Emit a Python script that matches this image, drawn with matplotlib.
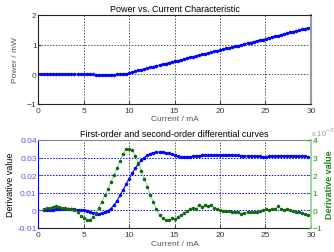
import numpy as np
import matplotlib.pyplot as plt

plt.rcParams['font.family'] = ['Liberation Sans', 'DejaVu Sans']

# Current axis (mA)
current = np.round(np.linspace(0, 29.7, 90), 2)

# Power / mW
power = [0.0, 0.0, 0.0, 0.0, 0.0, 0.0, 0.0, 0.0, 0.0, 0.0,
         0.0, 0.0, 0.0, 0.0, 0.0, 0.0, 0.0, 0.0, -0.005, -0.01,
         -0.015, -0.02, -0.02, -0.02, -0.015, -0.01, -0.005, 0.0, 0.01, 0.02,
         0.04, 0.07, 0.10, 0.13, 0.15, 0.18, 0.21, 0.23, 0.26, 0.29,
         0.31, 0.34, 0.36, 0.39, 0.41, 0.44, 0.46, 0.49, 0.51, 0.54,
         0.57, 0.59, 0.62, 0.64, 0.67, 0.69, 0.72, 0.74, 0.77, 0.79,
         0.82, 0.84, 0.87, 0.89, 0.92, 0.94, 0.97, 0.99, 1.02, 1.05,
         1.07, 1.10, 1.12, 1.15, 1.17, 1.20, 1.23, 1.25, 1.28, 1.30,
         1.33, 1.36, 1.38, 1.41, 1.44, 1.46, 1.49, 1.52, 1.54, 1.57]

# First-order derivative (left axis), starts at the 3rd current point
d1 = [0.0000, 0.0001, 0.0002, 0.0004, 0.0006, 0.0008, 0.0009, 0.0009,
      0.0008, 0.0007, 0.0005, 0.0004, 0.0002, 0.0000, -0.0004, -0.0008,
      -0.0013, -0.0018, -0.0019, -0.0016, -0.0010, -0.0002, 0.0010, 0.0030,
      0.0055, 0.0085, 0.0115, 0.0148, 0.0180, 0.0210, 0.0238, 0.0263,
      0.0284, 0.0300, 0.0313, 0.0322, 0.0328, 0.0331, 0.0331, 0.0330,
      0.0327, 0.0323, 0.0318, 0.0313, 0.0308, 0.0305, 0.0303, 0.0303,
      0.0305, 0.0307, 0.0309, 0.0311, 0.0312, 0.0313, 0.0314, 0.0315,
      0.0315, 0.0316, 0.0316, 0.0316, 0.0315, 0.0315, 0.0314, 0.0313,
      0.0312, 0.0311, 0.0310, 0.0309, 0.0308, 0.0307, 0.0306, 0.0306,
      0.0305, 0.0305, 0.0306, 0.0307, 0.0308, 0.0309, 0.0310, 0.0311,
      0.0311, 0.0311, 0.0310, 0.0309, 0.0308, 0.0307, 0.0306, 0.0305]

# Second-order derivative (right axis, x 1e-3), starts at the 3rd current point
d2 = [0.10, 0.12, 0.15, 0.18, 0.25, 0.20, 0.15, 0.12,
      0.10, 0.05, 0.00, -0.12, -0.30, -0.45, -0.52, -0.52,
      -0.40, -0.15, 0.15, 0.50, 0.85, 1.20, 1.60, 2.00,
      2.40, 2.80, 3.20, 3.50, 3.50, 3.40, 3.10, 2.70,
      2.25, 1.80, 1.35, 0.90, 0.45, 0.05, -0.25, -0.45,
      -0.55, -0.55, -0.45, -0.50, -0.35, -0.25, -0.15, -0.05,
      0.10, 0.15, 0.10, 0.30, 0.20, 0.30, 0.22, 0.28,
      0.15, 0.05, 0.00, -0.02, -0.05, -0.05, -0.08, -0.10,
      -0.10, -0.18, -0.15, -0.12, -0.10, -0.10, -0.08, -0.05,
      0.00, 0.05, 0.02, 0.10, 0.05, 0.22, 0.08, 0.02,
      0.08, 0.00, -0.05, -0.08, -0.12, -0.15, -0.20, -0.25]

tick_col = '#3a3a4a'
purple = '#7a44e0'
green = '#1f7f1f'
lgreen = '#8fcf8f'

fig = plt.figure(figsize=(3.34, 2.53), dpi=100)
ax1 = fig.add_axes([0.114, 0.585, 0.817, 0.352])
ax2 = fig.add_axes([0.114, 0.095, 0.817, 0.348])

# ---- top plot
ax1.plot(current, power, color='blue', marker='.', ms=3, lw=0.8)
ax1.set_xlim(0, 30)
ax1.set_ylim(-1, 2)
ax1.set_xticks(range(0, 31, 5))
ax1.set_yticks([-1, 0, 1, 2])
ax1.grid(True, color='#555555', ls=(0, (1.5, 1.5)), lw=0.7)
ax1.set_title('Power vs. Current Characteristic', fontsize=6.5, pad=3)
ax1.set_xlabel('Current / mA', fontsize=6, color='#555555', labelpad=1)
ax1.set_ylabel('Power / mW', fontsize=6, color='#4a5f4a', labelpad=6)
ax1.tick_params(labelsize=6, colors=tick_col, length=2, pad=1, direction='in')
ax1.tick_params(axis='x', pad=2)
for s in ax1.spines.values():
    s.set_color('#222222')
    s.set_linewidth(0.8)
ax1.spines['right'].set_color('#999999')
ax1.spines['right'].set_linewidth(1.5)

# ---- bottom plot
x2 = current[2:]
ax2.plot(x2, d1, color='blue', marker='.', ms=3, lw=0.8, zorder=3)
ax2.set_xlim(0, 30)
ax2.set_ylim(-0.01, 0.04)
ax2.set_xticks(range(0, 31, 5))
ax2.set_yticks([-0.01, 0, 0.01, 0.02, 0.03, 0.04])
ax2.set_yticklabels(['-0.01', '0', '0.01', '0.02', '0.03', '0.04'])
ax2.xaxis.grid(True, color='#555555', ls=(0, (1.5, 1.5)), lw=0.7)
ax2.yaxis.grid(True, color='blue', ls=(0, (1.5, 1.5)), lw=0.7)
ax2.set_title('First-order and second-order differential curves', fontsize=6.5, pad=3)
ax2.set_xlabel('Current / mA', fontsize=6, color='#555555', labelpad=1)
ax2.set_ylabel('Derivative value', fontsize=6.5, color='black', labelpad=2)
ax2.tick_params(labelsize=6, colors=tick_col, length=2, pad=1, direction='in')
ax2.tick_params(axis='x', pad=2.5)
ax2.tick_params(axis='y', colors=purple)
ax2.spines['left'].set_color('blue')
ax2.spines['top'].set_color('#888888')
ax2.spines['bottom'].set_color('#222222')
ax2.spines['right'].set_visible(False)

ax3 = ax2.twinx()
ax3.plot(x2, d2, color=lgreen, lw=0.7, zorder=1)
ax3.plot(x2, d2, ls='none', marker='.', ms=3, mfc='#116611', mec='#116611')
ax3.set_ylim(-1, 4)
ax3.set_yticks([-1, 0, 1, 2, 3, 4])
ax3.set_ylabel('Derivative value', fontsize=6.5, color=green, labelpad=2, fontweight='bold')
ax3.tick_params(labelsize=6, colors=green, length=2, pad=1, direction='in')
ax3.spines['right'].set_color(lgreen)
ax3.spines['right'].set_linewidth(1.2)
ax3.spines['left'].set_visible(False)
ax3.spines['top'].set_visible(False)
ax3.spines['bottom'].set_visible(False)
ax3.text(1.0, 1.02, r'x 10$^{-3}$', transform=ax3.transAxes, fontsize=5.5,
         color='#999999', ha='left', va='bottom')

fig.savefig('out.png', dpi=100)
